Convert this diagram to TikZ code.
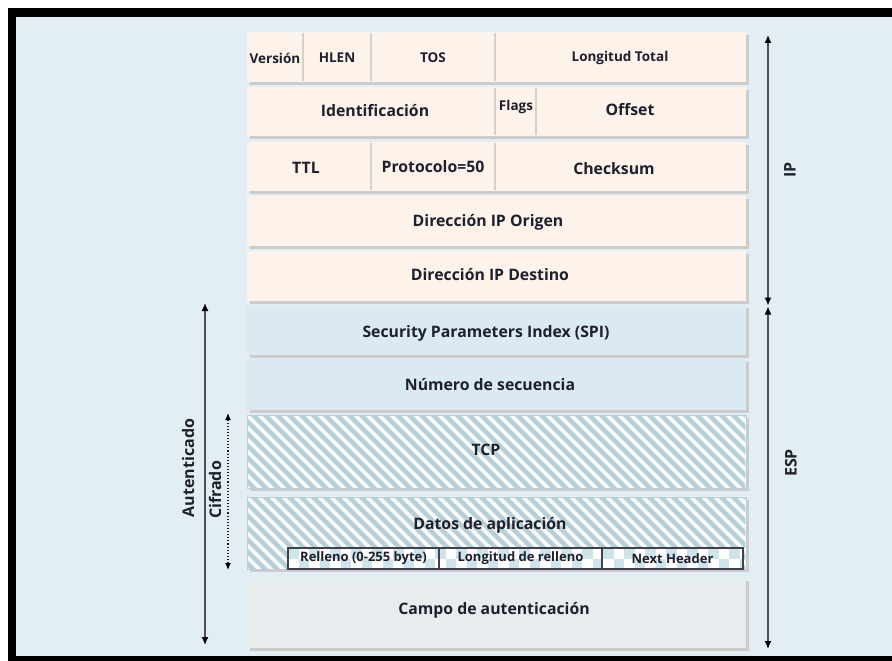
\documentclass[tikz,border=0pt]{standalone}
\usepackage{fontspec}
\setmainfont{Open Sans}
\usetikzlibrary{arrows.meta,shadows}
\definecolor{ink}{HTML}{1F1F2E}
\definecolor{paneBg}{HTML}{E3EEF4}
\definecolor{ipFill}{HTML}{FDF3EA}
\definecolor{espFill}{HTML}{DAEAF0}
\definecolor{authFill}{HTML}{E7ECEE}
\definecolor{shade}{HTML}{CCCCCC}
\definecolor{divider}{HTML}{D8D0C8}
\definecolor{hatchBg}{HTML}{F7FAFB}
\definecolor{hatchLine}{HTML}{B7D0D7}
\definecolor{checkCol}{HTML}{CFE3EA}
\definecolor{axisLine}{HTML}{505050}
\begin{document}
\begin{tikzpicture}[x=1pt,y=-1pt,
  every node/.style={text=ink, inner sep=0pt},
  big/.style={font=\bfseries\fontsize{15.8}{18}\selectfont},
  small/.style={font=\bfseries\fontsize{13.5}{16}\selectfont},
  side/.style={font=\bfseries\fontsize{16}{19}\selectfont, rotate=90},
  field/.style={minimum width=499pt, drop shadow={shadow xshift=2.5pt, shadow yshift=-3pt, fill=shade, opacity=1}},
  ipfield/.style={field, fill=ipFill},
  espfield/.style={field, fill=espFill},
  hatchfield/.style={field, fill=hatchBg, draw=hatchLine, line width=0.8pt},
  authfield/.style={field, fill=authFill},
  sep/.style={draw=divider, line width=1.4pt},
  stripe/.style={draw=hatchLine, line width=4.4pt},
  subfield/.style={draw=ink!85, line width=1.1pt, minimum height=21pt, font=\bfseries\fontsize{13}{15}\selectfont},
  span/.style={draw=axisLine, line width=1.4pt, {Latex[length=8pt,width=7pt,color=black]}-{Latex[length=8pt,width=7pt,color=black]}},
  cspan/.style={draw=ink, line width=1.1pt, dotted, {Latex[length=7pt,width=6pt,color=black]}-{Latex[length=7pt,width=6pt,color=black]}}
]
% page and frame
\fill[white] (0,0) rectangle (892,661);
\fill[paneBg] (8,8) rectangle (892,661);
\fill[black] (8,8) rectangle (892,17);
\fill[black] (8,8) rectangle (16,661);
\fill[black] (8,656) rectangle (892,661);
\useasboundingbox (0,0) rectangle (892,661);

% IP header rows
\node[ipfield, minimum height=50pt] (r1) at (496.5,57) {};
\node[ipfield, minimum height=49pt] (r2) at (496.5,111.5) {};
\node[ipfield, minimum height=49pt] (r3) at (496.5,166.5) {};
\node[ipfield, minimum height=50pt] (r4) at (496.5,221) {};
\node[ipfield, minimum height=50pt] (r5) at (496.5,276) {};

\draw[sep] (303,33) -- (303,81);
\draw[sep] (371,33) -- (371,81);
\draw[sep] (495,33) -- (495,81);
\draw[sep] (495,88) -- (495,135);
\draw[sep] (536,88) -- (536,135);
\draw[sep] (371,143) -- (371,190);
\draw[sep] (495,143) -- (495,190);

\node[small] (lVer) at (275,58) {Versión};
\node[small] (lHlen) at (337,58) {HLEN};
\node[small] (lTos) at (433,58) {TOS};
\node[small] (lLen) at (620,58) {Longitud Total};
\node[big] (lId) at (375,111) {Identificación};
\node[small] (lFlags) at (516,107) {Flags};
\node[big] (lOff) at (630,110) {Offset};
\node[big] (lTtl) at (306,168) {TTL};
\node[big] (lProto) at (433,167) {Protocolo=50};
\node[big] (lSum) at (614,169) {Checksum};
\node[big] (lSrc) at (488,222) {Dirección IP Origen};
\node[big] (lDst) at (490,275) {Dirección IP Destino};

% ESP rows
\node[espfield, minimum height=50pt] (r6) at (496.5,330) {};
\node[espfield, minimum height=51pt] (r7) at (496.5,384.5) {};
\node[big] (lSpi) at (486,333) {Security Parameters Index (SPI)};
\node[big] (lSeq) at (490,385) {Número de secuencia};

% encrypted payload, hatched
\node[hatchfield, minimum height=73pt] (r8) at (496.5,451.5) {};
\node[hatchfield, minimum height=72pt] (r9) at (496.5,533) {};
\begin{scope}
  \clip (247.6,415.6) rectangle (745.4,487.4);
  \foreach \x in {-100,-88,...,760} \draw[stripe] (\x,410) -- ++(85,85);
\end{scope}
\begin{scope}
  \clip (247.6,497.6) rectangle (745.4,568.4);
  \foreach \x in {-100,-88,...,760} \draw[stripe] (\x,492) -- ++(85,85);
\end{scope}
\node[big] (lTcp) at (486,450) {TCP};
\node[big] (lData) at (490,525) {Datos de aplicación};

% padding trailer with checkered fill
\begin{scope}
  \clip (288,548) rectangle (743,569);
  \fill[white] (288,548) rectangle (743,569);
  \foreach \i in {0,...,43} {
    \foreach \j in {0,1} {
      \pgfmathtruncatemacro\chk{mod(\i+\j,2)}
      \ifnum\chk=0
        \fill[checkCol] (288+10.5*\i,548+10.5*\j) rectangle ++(10.5,10.5);
      \fi
    }
  }
\end{scope}
\node[subfield, minimum width=151pt] (sPad) at (363.5,558.5) {Relleno (0-255 byte)};
\node[subfield, minimum width=163pt] (sPadLen) at (520.5,558.5) {Longitud de relleno};
\node[subfield, minimum width=141pt] (sNext) at (672.5,558.5) {Next Header};

% authentication data
\node[authfield, minimum height=70pt] (r10) at (496.5,613) {};
\node[big] (lAuth) at (494,610) {Campo de autenticación};

% span arrows
\coordinate (ipTop) at (768,35);
\coordinate (ipBot) at (768,305.5);
\coordinate (espTop) at (768,306.5);
\coordinate (espBot) at (768,649);
\coordinate (autTop) at (205,303);
\coordinate (autBot) at (205,645);
\coordinate (cifTop) at (228,413);
\coordinate (cifBot) at (228,570);
\draw[span] (ipTop) -- (ipBot);
\draw[span] (espTop) -- (espBot);
\draw[span] (autTop) -- (autBot);
\draw[cspan] (cifTop) -- (cifBot);

\node[side] (lIp) at (790,170) {IP};
\node[side] (lEsp) at (791,463) {ESP};
\node[side] (lAut) at (188,468) {Autenticado};
\node[side] (lCif) at (215,490) {Cifrado};
\end{tikzpicture}
\end{document}
